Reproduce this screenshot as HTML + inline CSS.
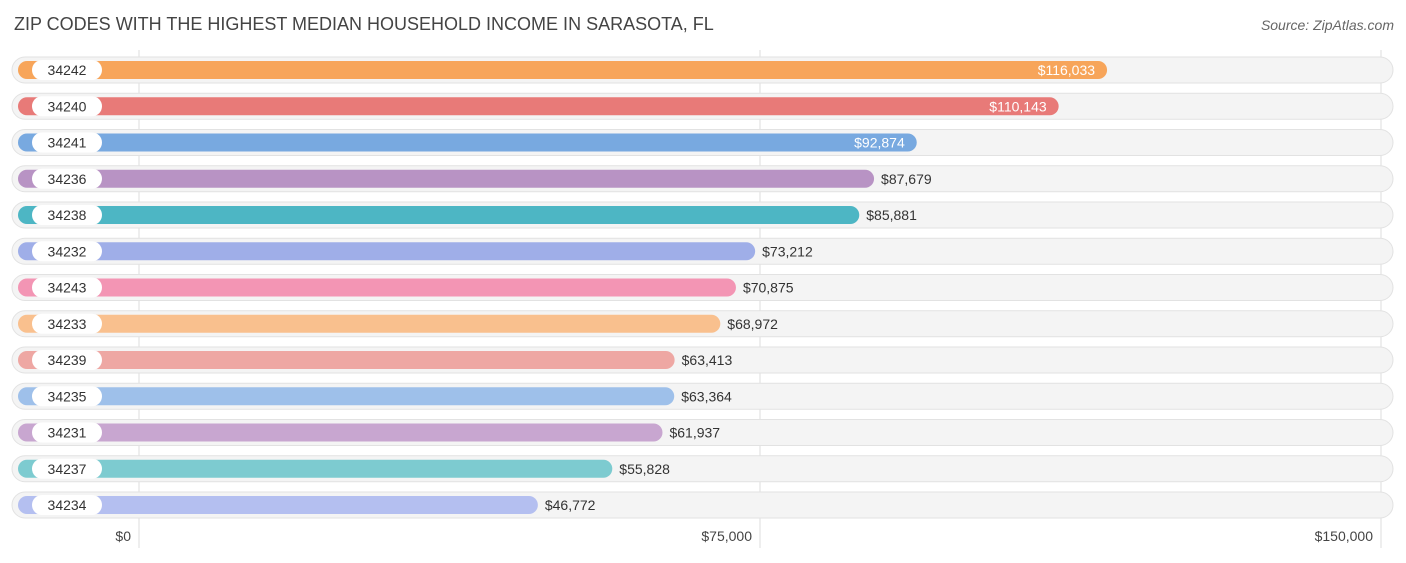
<!DOCTYPE html>
<html><head><meta charset="utf-8"><style>
body{margin:0;background:#fff;width:1406px;height:558px;overflow:hidden;font-family:"Liberation Sans",sans-serif;}
</style></head><body>
<svg id="chart" width="1406" height="558">
<text x="14" y="30" font-size="18" fill="#444">ZIP CODES WITH THE HIGHEST MEDIAN HOUSEHOLD INCOME IN SARASOTA, FL</text>
<text x="1394" y="30" font-size="14" fill="#666" font-style="italic" text-anchor="end">Source: ZipAtlas.com</text>
<g id="grid"></g><g id="rows"></g><g id="axis"></g>
</svg>
<script>
const categories=["34242","34240","34241","34236","34238","34232","34243","34233","34239","34235","34231","34237","34234"];
const values=[116033,110143,92874,87679,85881,73212,70875,68972,63413,63364,61937,55828,46772];
const colors=["#f7a55a","#e87a78","#78a9e0","#b893c4","#4db6c4","#9faee8","#f395b4","#f9c08e","#eea7a3","#9ec0ea","#c8a6d0","#7dcbd0","#b4bff0"];
const ticks=[0,75000,150000];
const tickLabels=["$0","$75,000","$150,000"];
const NS="http://www.w3.org/2000/svg";
const xBar=v=>153.5+v*0.008218;
const xGrid=v=>139+v*621/75000;
const yRow=i=>70+i*36.25;
function mk(t,a,p){const e=document.createElementNS(NS,t);for(const k in a)e.setAttribute(k,a[k]);p.appendChild(e);return e;}
const grid=document.getElementById('grid'),rows=document.getElementById('rows'),axis=document.getElementById('axis');
ticks.forEach((t,i)=>{
 const l=mk('line',{x1:xGrid(t),x2:xGrid(t),y1:50,y2:548,stroke:'#ddd','stroke-width':1},grid);
 
 
 const tx=mk('text',{x:xGrid(t)-8,y:541,'font-size':14,fill:'#444','text-anchor':'end'},axis);
 tx.textContent=tickLabels[i];
 
 
});
categories.forEach((c,i)=>{
 const y=yRow(i);
 const g=mk('g',{},rows);
 
 
 const tr=mk('rect',{x:12,y:y-13,width:1381,height:26,rx:13,fill:'#f4f4f4',stroke:'#e2e2e2'},g);
 
 
 const b=mk('rect',{x:18,y:y-9,width:xBar(values[i])-18,height:18,rx:9,fill:colors[i]},g);
 
 
 const p=mk('rect',{x:32,y:y-10,width:70,height:20,rx:10,fill:'#fff'},g);
 
 
 const lt=mk('text',{x:67,y:y+5,'font-size':14,fill:'#333','text-anchor':'middle'},g);
 lt.textContent=c;
 
 
 const inside=i<3;
 const vt=mk('text',{x:inside?xBar(values[i])-12:xBar(values[i])+7,y:y+5,'font-size':14,fill:inside?'#fff':'#333','text-anchor':inside?'end':'start'},g);
 vt.textContent='$'+values[i].toLocaleString('en-US');
 
 
});
</script>
</body></html>
